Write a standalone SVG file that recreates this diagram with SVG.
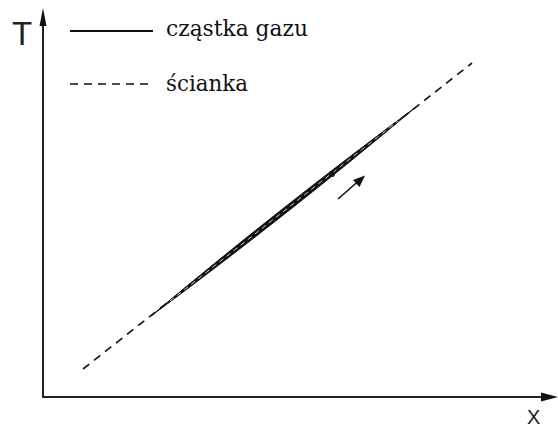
<svg xmlns="http://www.w3.org/2000/svg" width="558" height="427" viewBox="0 0 558 427">
<style>
.ax{stroke:#222;stroke-width:2;fill:none}
.dash{stroke:#111;stroke-width:1.6;stroke-dasharray:8 6;fill:none}
.serif{font-size:23px;fill:#111;font-family:"DejaVu Serif","Liberation Serif",serif}
.sans{fill:#222;font-family:"Liberation Sans",Arial,sans-serif}
</style>
<rect width="558" height="427" fill="#fff"/>
<g id="axes">
<line class="ax" x1="43" y1="398" x2="43" y2="22"/>
<polygon points="43,8 39.5,26 46.5,26" fill="#111"/>
<line class="ax" x1="42" y1="397" x2="545" y2="397"/>
<polygon points="558,397 541,392.5 541,401.5" fill="#111"/>
<text class="sans" x="12" y="45" font-size="33">T</text>
<text class="sans" x="527" y="424" font-size="20">X</text>
</g>
<g id="legend">
<line x1="70" y1="31" x2="153" y2="31" stroke="#111" stroke-width="2"/>
<text class="serif" x="166" y="36" textLength="142" lengthAdjust="spacingAndGlyphs">cząstka gazu</text>
<line class="dash" x1="70" y1="84" x2="152" y2="84"/>
<text class="serif" x="166" y="91" textLength="82" lengthAdjust="spacingAndGlyphs">ścianka</text>
</g>
<g id="connectors">
<g id="wall">
<line class="dash" x1="83" y1="369" x2="472" y2="63"/>
</g>
<g id="particle">
<path d="M151,316 C241.5,249 329.9,179.4 416,107 C325.5,174 237.1,243.6 151,316 Z" fill="#111" stroke="#111" stroke-width="1"/>
<line x1="170" y1="301" x2="398" y2="121" stroke="#fff" stroke-width="0.8" stroke-dasharray="5 4"/>
<circle cx="332" cy="174" r="3" fill="#111"/>
</g>
<g id="direction">
<line x1="338" y1="199" x2="358" y2="181.5" stroke="#111" stroke-width="1.6"/>
<polygon points="365,175.5 353,180 359.5,187" fill="#111"/>
</g>
</g>
</svg>
